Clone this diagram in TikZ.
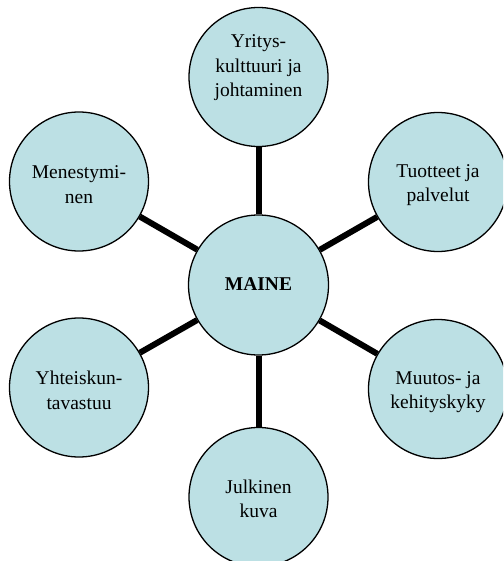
\documentclass[tikz,border=0pt]{standalone}
\usepackage{fontspec}
\setmainfont{Liberation Serif}
\definecolor{bubblefill}{RGB}{188,224,228}
\tikzset{
  bubble/.style={circle, draw=black, line width=1.3pt, fill=bubblefill,
    minimum size=139pt, inner sep=0pt},
  hub/.style={bubble, minimum size=140pt},
  lbl/.style={align=center, font=\fontsize{19.5}{24.5}\selectfont, inner sep=0pt},
  conn/.style={line width=6pt, black}
}
\begin{document}
\begin{tikzpicture}[x=1pt, y=-1pt]
  \useasboundingbox (0,0) rectangle (503,561);
  \clip (0,0) rectangle (503,561);
  % circles
  \node[hub]    (maine) at (258.5,285) {};
  \node[bubble] (yri)   at (258.5,77)  {};
  \node[bubble] (tuo)   at (438,182)   {};
  \node[bubble] (muu)   at (438,389)   {};
  \node[bubble] (jul)   at (258.5,497) {};
  \node[bubble] (yht)   at (79,387.5)  {};
  \node[bubble] (men)   at (79,181.5)  {};
  % spokes
  \foreach \n in {yri,tuo,muu,jul,yht,men}
    \draw[conn] (maine) -- (\n);
  % labels
  \node[lbl] (maineT) at ([yshift=1pt]maine.center) {\textbf{MAINE}};
  \node[lbl] (yriT) at ([yshift=9pt]yri.center) {Yritys-\\kulttuuri ja\\johtaminen};
  \node[lbl] (tuoT) at ([yshift=-3pt]tuo.center) {Tuotteet ja\\palvelut};
  \node[lbl] (muuT) at ([yshift=-3pt]muu.center) {Muutos- ja\\kehityskyky};
  \node[lbl] (julT) at ([yshift=-2pt]jul.center) {Julkinen\\kuva};
  \node[lbl] (yhtT) at ([yshift=-3pt]yht.center) {Yhteiskun-\\tavastuu};
  \node[lbl] (menT) at ([yshift=-3pt]men.center) {Menestymi-\\nen};
\end{tikzpicture}
\end{document}
